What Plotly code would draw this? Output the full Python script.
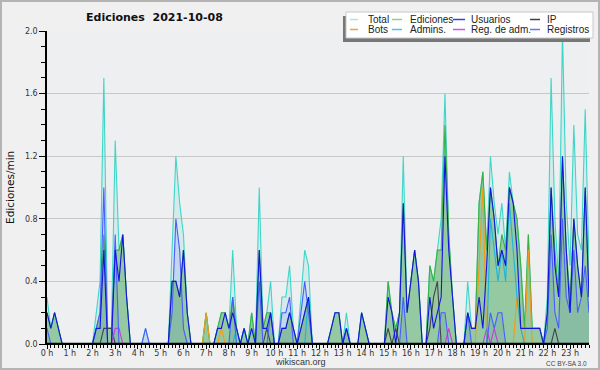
import plotly.graph_objects as go

# ---------------- data (10-minute bins, edits per minute) ----------------
hours = list(range(24))
hour_labels = [f"{h} h" for h in hours]
y_tick_vals = [0.0, 0.4, 0.8, 1.2, 1.6, 2.0]
y_tick_labels = ["0.0", "0.4", "0.8", "1.2", "1.6", "2.0"]

total = [
    .3, .1, .2, .1, 0, 0,   0, 0, 0, 0, 0, 0,
    0, .2, .4, 1.7, .1, .1,   1.3, .6, .7, .3, 0, 0,
    0, 0, .1, 0, 0, 0,   0, 0, 0, .6, 1.2, .9,
    .7, .2, 0, 0, 0, 0,   .2, 0, 0, .1, .2, .2,
    .1, .6, .1, 0, .1, 0,   .2, 0, 1.0, .1, .2, .4,
    0, 0, .3, .3, .5, .1,   0, .3, .6, .5, 0, 0,
    0, 0, 0, .1, .2, .2,   0, .2, 0, 0, 0, .2,
    .1, 0, 0, 0, 0, 0,   .4, .2, .1, .2, 1.2, .2,
    .4, .6, .4, 0, 0, .5,   .4, .6, .8, 1.6, .7, .3,
    0, 0, 0, .4, .1, .1,   .9, 1.1, .6, 1.2, .9, .7,
    .9, .6, 1.1, .9, .8, .5,   .1, .7, .1, .1, .1, 0,
    .3, 1.7, .8, .4, 2.0, .9,   .5, 1.4, .7, .6, 1.5, .5,
]
ediciones = [
    .2, .1, .2, .1, 0, 0,   0, 0, 0, 0, 0, 0,
    0, .1, .2, .7, .1, .1,   .6, .6, .7, .3, 0, 0,
    0, 0, 0, 0, 0, 0,   0, 0, 0, .4, .4, .3,
    .6, .2, 0, 0, 0, 0,   .2, 0, 0, .1, .2, .2,
    .1, .3, .1, 0, .1, 0,   .2, 0, .6, .1, .2, .2,
    0, 0, .1, .1, .2, .1,   0, .1, .2, .3, 0, 0,
    0, 0, 0, .1, .2, .2,   0, .1, 0, 0, 0, .2,
    .1, 0, 0, 0, 0, 0,   .4, .2, .1, .2, .9, .2,
    .4, .6, .4, 0, 0, .5,   .4, .6, .6, 1.4, .7, .3,
    0, 0, 0, .2, .1, .1,   .9, 1.1, .6, 1.0, .8, .5,
    .7, .6, 1.0, .9, .8, .5,   .1, .7, .1, .1, .1, 0,
    .2, 1.0, .6, .3, 1.2, .6,   .3, .8, .5, .3, 1.0, .3,
]
usuarios = [
    .2, .1, .2, .1, 0, 0,   0, 0, 0, 0, 0, 0,
    0, .1, .1, .6, 0, 0,   .6, .4, .7, .3, 0, 0,
    0, 0, 0, 0, 0, 0,   0, 0, 0, .4, .4, .3,
    .6, .2, 0, 0, 0, 0,   0, 0, 0, .1, .1, .2,
    .1, .2, .1, 0, .1, 0,   .1, 0, .6, .1, .1, .2,
    0, 0, .1, .1, .2, .1,   0, .1, .2, .3, 0, 0,
    0, 0, 0, .1, .2, .2,   0, .1, 0, 0, 0, .2,
    .1, 0, 0, 0, 0, 0,   .3, .2, 0, .2, .9, .2,
    .4, .6, .4, 0, 0, .3,   .1, .2, .3, 1.2, .6, .3,
    0, 0, 0, .2, .1, .1,   .3, .1, .5, 1.0, .8, .5,
    .6, .5, 1.0, .9, .6, .1,   .1, .1, .1, .1, .1, 0,
    .2, 1.0, .5, .3, 1.2, .6,   .2, .8, .5, .3, 1.0, .3,
]
ip = [
    0, 0, 0, 0, 0, 0,   0, 0, 0, 0, 0, 0,
    0, 0, 0, .1, .1, .1,   0, 0, 0, 0, 0, 0,
    0, 0, 0, 0, 0, 0,   0, 0, 0, 0, 0, 0,
    0, 0, 0, 0, 0, 0,   0, 0, 0, 0, 0, 0,
    0, 0, 0, 0, 0, 0,   0, 0, 0, 0, .1, 0,
    0, 0, 0, 0, 0, 0,   0, 0, 0, 0, 0, 0,
    0, 0, 0, 0, 0, 0,   0, 0, 0, 0, 0, 0,
    0, 0, 0, 0, 0, 0,   .1, 0, .1, 0, 0, 0,
    0, 0, 0, 0, 0, .1,   .3, .4, 0, 0, 0, 0,
    0, 0, 0, 0, 0, 0,   0, 0, 0, 0, 0, 0,
    0, 0, 0, 0, 0, 0,   0, 0, 0, 0, 0, 0,
    0, 0, .1, 0, 0, 0,   0, 0, 0, 0, 0, 0,
]
bots = [
    0, 0, 0, 0, 0, 0,   0, 0, 0, 0, 0, 0,
    0, 0, 0, 0, 0, 0,   0, 0, 0, 0, 0, 0,
    0, 0, 0, 0, 0, 0,   0, 0, 0, 0, 0, 0,
    0, 0, 0, 0, 0, 0,   .2, 0, 0, 0, .1, 0,
    0, 0, 0, 0, 0, 0,   0, 0, 0, 0, 0, 0,
    0, 0, 0, 0, 0, 0,   0, 0, 0, 0, 0, 0,
    0, 0, 0, 0, 0, 0,   0, 0, 0, 0, 0, 0,
    0, 0, 0, 0, 0, 0,   0, 0, 0, 0, 0, 0,
    0, 0, 0, 0, 0, 0,   0, 0, 0, 0, 0, 0,
    0, 0, 0, 0, 0, 0,   .5, 1.0, 0, 0, 0, 0,
    0, 0, 0, 0, .3, .1,   0, .6, 0, 0, 0, 0,
    0, 0, 0, 0, 0, 0,   0, 0, 0, 0, 0, 0,
]
admins = [
    0, 0, 0, 0, 0, 0,   0, 0, 0, 0, 0, 0,
    0, 0, 0, 0, 0, 0,   0, 0, 0, 0, 0, 0,
    0, 0, 0, 0, 0, 0,   0, 0, 0, 0, 0, 0,
    0, 0, 0, 0, 0, 0,   0, 0, 0, 0, 0, 0,
    0, 0, .1, 0, .1, 0,   0, 0, 0, 0, 0, 0,
    0, 0, 0, 0, 0, 0,   0, 0, 0, .3, 0, 0,
    0, 0, 0, 0, 0, 0,   0, 0, 0, 0, 0, 0,
    0, 0, 0, 0, 0, 0,   0, 0, 0, 0, 0, 0,
    0, 0, 0, 0, 0, 0,   0, 0, 0, 0, 0, 0,
    0, 0, 0, 0, 0, 0,   0, 0, 0, .8, .6, .4,
    .6, .4, .9, .6, .3, .1,   0, 0, 0, 0, 0, 0,
    0, 0, 0, 0, 0, 0,   0, 0, 0, 0, 0, 0,
]
reg_adm = [
    0, 0, 0, 0, 0, 0,   0, 0, 0, 0, 0, 0,
    0, 0, 0, 0, 0, 0,   .1, .1, 0, 0, 0, 0,
    0, 0, 0, 0, 0, 0,   0, 0, 0, 0, 0, 0,
    0, 0, 0, 0, 0, 0,   0, 0, 0, 0, 0, 0,
    0, 0, 0, 0, 0, 0,   0, 0, 0, 0, 0, 0,
    0, 0, 0, 0, 0, 0,   0, 0, 0, 0, 0, 0,
    0, 0, 0, 0, 0, 0,   0, 0, 0, 0, 0, 0,
    0, 0, 0, 0, 0, 0,   0, 0, 0, 0, 0, 0,
    0, 0, 0, 0, 0, 0,   0, 0, 0, 0, .1, 0,
    0, 0, 0, 0, 0, 0,   0, 0, .1, 0, .1, 0,
    0, 0, 0, 0, 0, 0,   0, 0, 0, 0, 0, 0,
    0, 0, 0, 0, 0, 0,   0, 0, 0, 0, 0, 0,
]
registros = [
    .1, 0, 0, 0, 0, 0,   0, 0, 0, 0, 0, 0,
    0, .1, .2, 1.0, 0, 0,   .7, 0, 0, 0, 0, 0,
    0, 0, .1, 0, 0, 0,   0, 0, 0, .2, .8, .6,
    .1, 0, 0, 0, 0, 0,   0, 0, 0, 0, 0, 0,
    0, .3, 0, 0, 0, 0,   0, 0, .4, 0, 0, .2,
    0, 0, .2, .2, .3, 0,   0, .2, .4, .2, 0, 0,
    0, 0, 0, 0, 0, 0,   0, .1, 0, 0, 0, 0,
    0, 0, 0, 0, 0, 0,   0, 0, 0, 0, .3, 0,
    0, 0, 0, 0, 0, 0,   0, 0, .2, .2, 0, 0,
    0, 0, 0, .2, 0, 0,   0, 0, 0, .2, .1, .2,
    .2, 0, 0, 0, 0, 0,   0, 0, 0, 0, 0, 0,
    .1, .7, .2, .1, .8, .3,   .2, .6, .2, .3, .5, .2,
]

# time of each 10-minute bin, in hours
t = [i / 6 for i in range(len(total))]

# ---------------- layout helpers (pixel -> paper) ----------------
L, R, T, B = 47, 589, 31, 344


def px(x):
    return (x - L) / (R - L)


def py(y):
    return (B - y) / (B - T)


fig = go.Figure()

# filled areas
fig.add_trace(go.Scatter(x=t, y=total, mode="lines", fill="tozeroy",
                         fillcolor="rgba(64,214,200,0.14)", line=dict(width=0),
                         hoverinfo="skip", showlegend=False))
fig.add_trace(go.Scatter(x=t, y=registros, mode="lines", fill="tozeroy",
                         fillcolor="rgba(80,110,255,0.15)", line=dict(width=0),
                         hoverinfo="skip", showlegend=False))
fig.add_trace(go.Scatter(x=t, y=ediciones, mode="lines", fill="tozeroy",
                         fillcolor="rgba(50,150,50,0.40)", line=dict(width=0),
                         hoverinfo="skip", showlegend=False))

# lines
line_specs = [
    ("Total", total, "#3ed6c8"),
    ("Ediciones", ediciones, "#3cb043"),
    ("IP", ip, "#444444"),
    ("Bots", bots, "#f29a1a"),
    ("Reg. de adm.", reg_adm, "#c83ce0"),
    ("Admins.", admins, "#1eb4d8"),
    ("Registros", registros, "#4a5cff"),
    ("Usuarios", usuarios, "#1414e0"),
]
for name, vals, col in line_specs:
    fig.add_trace(go.Scatter(x=t, y=vals, mode="lines", name=name,
                             line=dict(color=col, width=1.1), showlegend=False))

shapes = []
annotations = []

# baseline drawn over the zero-valued line segments
shapes.append(dict(type="line", xref="x", yref="y", x0=0, x1=t[-1], y0=0, y1=0,
                   line=dict(color="#000000", width=2.5), layer="above"))

# outer frame
shapes.append(dict(type="rect", xref="paper", yref="paper",
                   x0=px(1), x1=px(599), y0=py(369), y1=py(1),
                   line=dict(color="#b4b4b4", width=2), layer="below"))

# legend box with shadow
shapes.append(dict(type="rect", xref="paper", yref="paper",
                   x0=px(343), x1=px(590), y0=py(42), y1=py(16),
                   fillcolor="#777777", line=dict(width=0)))
shapes.append(dict(type="rect", xref="paper", yref="paper",
                   x0=px(346), x1=px(593), y0=py(38), y1=py(12),
                   fillcolor="#ffffff", line=dict(color="#c8c8c8", width=1)))

legend_items = [
    ("Total", "#a6e8e0", 350, 358, 366, 19.5),
    ("Ediciones", "#8ed08e", 392, 402, 408, 19.5),
    ("Usuarios", "#3c3cdc", 453, 465, 469, 19.5),
    ("IP", "#404040", 530, 540, 545, 19.5),
    ("Bots", "#f0a040", 350, 358, 366, 29.5),
    ("Admins.", "#40c8e0", 392, 402, 408, 29.5),
    ("Reg. de adm.", "#d050e0", 453, 465, 469, 29.5),
    ("Registros", "#7070f0", 530, 540, 545, 29.5),
]
for label, col, lx0, lx1, tx, ly in legend_items:
    shapes.append(dict(type="line", xref="paper", yref="paper",
                       x0=px(lx0), x1=px(lx1), y0=py(ly), y1=py(ly),
                       line=dict(color=col, width=1.5)))
    annotations.append(dict(text=label, xref="paper", yref="paper",
                            x=px(tx), y=py(ly), xanchor="left", yanchor="middle",
                            showarrow=False,
                            font=dict(family="Liberation Sans", size=10, color="#222222")))

# title, axis title, footer
annotations.append(dict(text="<b>Ediciones  2021-10-08</b>", xref="paper", yref="paper",
                        x=px(154), y=py(17), xanchor="center", yanchor="middle",
                        showarrow=False,
                        font=dict(family="DejaVu Sans", size=11, color="#111111")))
annotations.append(dict(text="Ediciones/min", xref="paper", yref="paper",
                        x=px(10), y=py(188), xanchor="center", yanchor="middle",
                        textangle=-90, showarrow=False,
                        font=dict(family="DejaVu Sans", size=10.5, color="#111111")))
annotations.append(dict(text="wikiscan.org", xref="paper", yref="paper",
                        x=px(300), y=py(362), xanchor="center", yanchor="middle",
                        showarrow=False,
                        font=dict(family="Liberation Sans", size=9, color="#333333")))
annotations.append(dict(text="CC BY-SA 3.0", xref="paper", yref="paper",
                        x=px(589), y=py(363), xanchor="right", yanchor="middle",
                        showarrow=False,
                        font=dict(family="Liberation Sans", size=6.5, color="#444444")))

fig.update_layout(
    width=600, height=370,
    margin=dict(l=L, r=600 - R, t=T, b=370 - B, pad=0),
    paper_bgcolor="#f0f0f0",
    plot_bgcolor="#eeeff1",
    shapes=shapes,
    annotations=annotations,
    showlegend=False,
    hovermode=False,
)

fig.update_xaxes(
    range=[0, t[-1]],
    tickmode="array", tickvals=hours, ticktext=hour_labels,
    ticks="outside", ticklen=4, tickwidth=1, tickcolor="#000000",
    minor=dict(dtick=1 / 6, tick0=0, ticks="outside", ticklen=3, tickwidth=1,
               tickcolor="#000000", showgrid=False),
    showline=True, linecolor="#000000", linewidth=1,
    showgrid=False, zeroline=False,
    ticklabelstandoff=-3,
    tickfont=dict(family="DejaVu Sans", size=8, color="#333333"),
)
fig.update_yaxes(
    range=[0, 2.0],
    tickmode="array", tickvals=y_tick_vals, ticktext=y_tick_labels,
    ticks="outside", ticklen=6, tickwidth=1, tickcolor="#000000",
    minor=dict(dtick=0.1, tick0=0, ticks="outside", ticklen=4, tickwidth=1,
               tickcolor="#000000", showgrid=False),
    showline=True, linecolor="#000000", linewidth=1.5,
    showgrid=True, gridcolor="#c8c8c8", gridwidth=1,
    zeroline=False,
    tickfont=dict(family="DejaVu Sans", size=8, color="#333333"),
)

fig.write_html("out.html", config={"displayModeBar": False},
               post_script="document.body.style.margin='0';")
